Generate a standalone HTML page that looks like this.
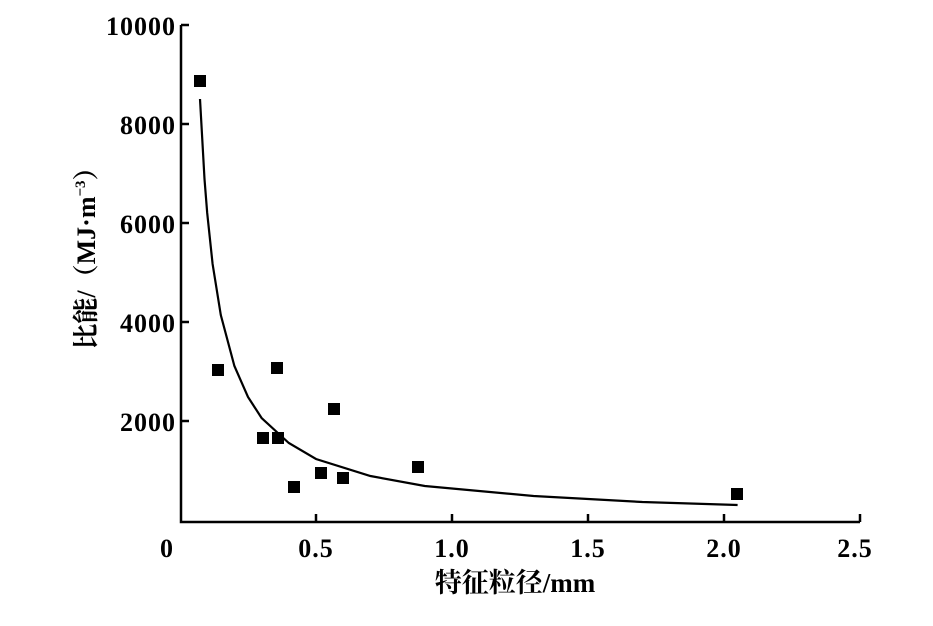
<!DOCTYPE html>
<html><head><meta charset="utf-8"><style>
html,body{margin:0;padding:0;background:#fff;}
</style></head><body>
<svg width="933" height="621" viewBox="0 0 933 621" xmlns="http://www.w3.org/2000/svg" font-family="'Liberation Serif','Noto Serif CJK SC',serif" font-weight="bold">
<g stroke="#000" stroke-width="2.5" fill="none">
<polyline points="181,25 181,522 860,522"/>
<line x1="181" y1="25" x2="189" y2="25"/>
<line x1="181" y1="124" x2="189" y2="124"/>
<line x1="181" y1="223" x2="189" y2="223"/>
<line x1="181" y1="322" x2="189" y2="322"/>
<line x1="181" y1="421" x2="189" y2="421"/>
<line x1="316" y1="522" x2="316" y2="514"/>
<line x1="452" y1="522" x2="452" y2="514"/>
<line x1="588" y1="522" x2="588" y2="514"/>
<line x1="724" y1="522" x2="724" y2="514"/>
<line x1="860" y1="522" x2="860" y2="514"/>
</g>
<g font-size="26" text-anchor="end" fill="#000" letter-spacing="1">
<text x="176" y="35">10000</text>
<text x="176" y="134">8000</text>
<text x="176" y="233">6000</text>
<text x="176" y="332">4000</text>
<text x="176" y="431">2000</text>
</g>
<g font-size="26" text-anchor="middle" fill="#000" letter-spacing="1">
<text x="167" y="557">0</text>
<text x="316" y="557">0.5</text>
<text x="452" y="557">1.0</text>
<text x="588" y="557">1.5</text>
<text x="724" y="557">2.0</text>
<text x="855" y="557">2.5</text>
</g>
<text x="515" y="592" font-size="27" text-anchor="middle">特征粒径/mm</text>
<text transform="translate(95,252) rotate(-90)" font-size="26" text-anchor="middle">比能/（MJ·m<tspan font-size="15" dy="-10">−3</tspan><tspan dy="10">）</tspan></text>
<polyline fill="none" stroke="#000" stroke-width="2.2" points="200,99 204.5,179 207.2,213 212.6,264 220.8,315 234.4,366 248,397 261.6,418 288.8,443 316,459 370.4,476 424.8,486 533.6,496 642.4,502 737.6,505"/>
<g fill="#000">
<rect x="194" y="75" width="12" height="12"/>
<rect x="212" y="364" width="12" height="12"/>
<rect x="257" y="432" width="12" height="12"/>
<rect x="271" y="362" width="12" height="12"/>
<rect x="272" y="432" width="12" height="12"/>
<rect x="288" y="481" width="12" height="12"/>
<rect x="315" y="467" width="12" height="12"/>
<rect x="328" y="403" width="12" height="12"/>
<rect x="337" y="472" width="12" height="12"/>
<rect x="412" y="461" width="12" height="12"/>
<rect x="731" y="488" width="12" height="12"/>
</g>
</svg>
</body></html>
